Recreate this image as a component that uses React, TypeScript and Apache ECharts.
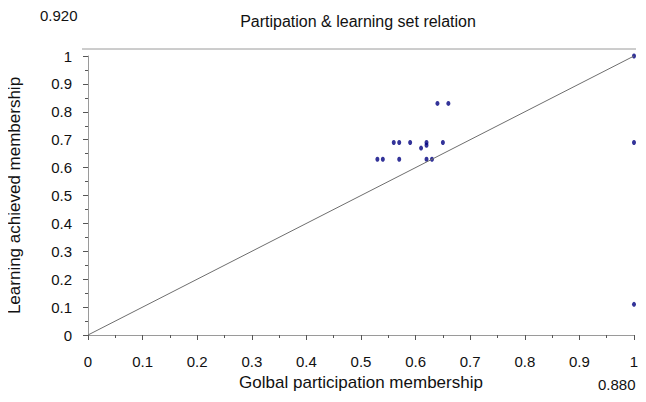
import React, { useEffect, useRef } from "react";
import * as echarts from "echarts";

const participation = [0.53, 0.54, 0.57, 0.62, 0.63, 0.56, 0.57, 0.59, 0.62, 0.62, 0.61, 0.65, 0.64, 0.66, 1, 1, 1];
const learning = [0.63, 0.63, 0.63, 0.63, 0.63, 0.69, 0.69, 0.69, 0.69, 0.68, 0.67, 0.69, 0.83, 0.83, 1, 0.69, 0.11];
const diagonal = [[0, 0], [1, 1]];
const titleText = "Partipation & learning set relation";
const xName = "Golbal participation membership";
const yName = "Learning achieved membership";
const topNote = "0.920";
const bottomNote = "0.880";

const FONT = "Liberation Sans, Arial, Helvetica, sans-serif";

export default function App() {
  const ref = useRef<HTMLDivElement>(null);
  useEffect(() => {
    if (!ref.current) return;
    const chart = echarts.init(ref.current, undefined, { renderer: "svg" });
    const points = participation.map((x, i) => [x, learning[i]]);
    const axisCommon = {
      type: "value" as const,
      min: 0,
      max: 1,
      interval: 0.1,
      splitLine: { show: false },
      axisLine: { show: true, lineStyle: { color: "#9a9a9a", width: 1 } },
      axisTick: { show: true, inside: false, length: 5, lineStyle: { color: "#555" } },
      minorTick: { show: true, splitNumber: 2, length: 3, lineStyle: { color: "#555" } },
      axisLabel: {
        color: "#111",
        fontSize: 15,
        fontFamily: FONT,
        margin: 10,
        formatter: (v: number) => String(Math.round(v * 10) / 10),
      },
      nameLocation: "middle" as const,
      nameMoveOverlap: false,
      nameTextStyle: { color: "#111", fontSize: 17, fontFamily: FONT },
    };
    chart.setOption({
      animation: false,
      backgroundColor: "#fff",
      title: {
        text: titleText,
        left: 353,
        top: 8,
        textAlign: "center",
        textStyle: { fontSize: 16, fontWeight: "normal", color: "#111", fontFamily: FONT },
      },
      grid: { left: 88, right: 12, top: 56, bottom: 67, containLabel: false, outerBoundsMode: "none" },
      xAxis: {
        ...axisCommon,
        offset: 11,
        name: xName,
        nameGap: 28,
        axisLabel: { ...axisCommon.axisLabel, margin: 8 },
      },
      yAxis: { ...axisCommon, offset: 6, name: yName, nameGap: 59 },
      graphic: [
        { type: "line", shape: { x1: 82, y1: 49, x2: 636, y2: 49 }, style: { stroke: "#9a9a9a", lineWidth: 1 } },
        { type: "text", left: 40, top: 8, style: { text: topNote, fontSize: 15, fontFamily: FONT, fill: "#111" } },
        { type: "text", left: 598, top: 377, style: { text: bottomNote, fontSize: 15, fontFamily: FONT, fill: "#111" } },
      ],
      series: [
        {
          type: "line",
          data: diagonal,
          showSymbol: false,
          symbol: "none",
          lineStyle: { color: "#6e6e6e", width: 1 },
          silent: true,
        },
        {
          type: "scatter",
          data: points,
          symbol: "circle",
          symbolSize: [4, 5],
          itemStyle: { color: "#000080" },
        },
      ],
    });
    return () => chart.dispose();
  }, []);
  return <div ref={ref} style={{ width: 646, height: 402, margin: -8 }} />;
}
